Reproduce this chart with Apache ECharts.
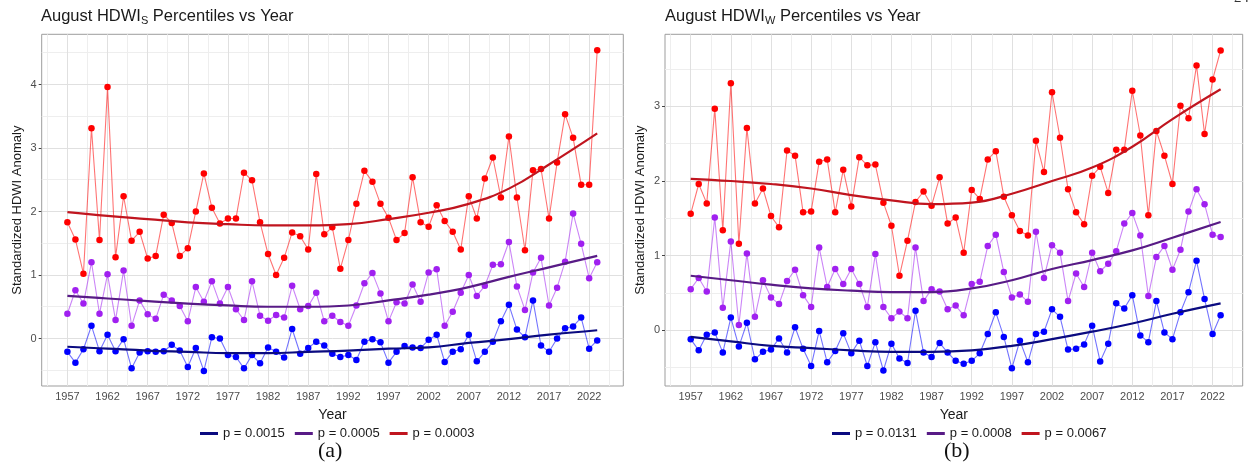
<!DOCTYPE html>
<html>
<head>
<meta charset="utf-8">
<title>August HDWI Percentiles vs Year</title>
<script src="https://cdn.jsdelivr.net/npm/echarts@6/dist/echarts.min.js"></script>
<style>
  html, body { margin: 0; padding: 0; background: #fff; }
  #chart { width: 1249px; height: 470px; }
</style>
</head>
<body>
<div id="chart"></div>
<script>
// Years covered by every series
const years = Array.from({ length: 67 }, (_, i) => 1957 + i);
const xTickYears = [1957, 1962, 1967, 1972, 1977, 1982, 1987, 1992, 1997, 2002, 2007, 2012, 2017, 2022];
const yTicksS = [0, 1, 2, 3, 4];
const yTicksW = [0, 1, 2, 3];

// HDWI_S percentiles (standardized anomaly)
const sBlue = [-0.21, -0.38, -0.17, 0.20, -0.20, 0.06, -0.20, -0.01, -0.47, -0.22, -0.20, -0.21, -0.20, -0.10, -0.19, -0.45, -0.15, -0.51, 0.02, 0.00, -0.26,
  -0.29, -0.47, -0.26, -0.39, -0.14, -0.21, -0.30, 0.15, -0.24, -0.15, -0.05, -0.11, -0.24, -0.29, -0.26, -0.34, -0.05, -0.01, -0.06, -0.38, -0.21, -0.12, -0.14, -0.15,
  -0.02, 0.06, -0.37, -0.21, -0.17, 0.06, -0.36, -0.21, -0.05, 0.27, 0.53, 0.14, 0.02, 0.60, -0.11, -0.21, 0.00, 0.16, 0.19, 0.33, -0.16, -0.03];
const sPurple = [0.39, 0.76, 0.55, 1.20, 0.39, 1.01, 0.29, 1.07, 0.20, 0.60, 0.38, 0.31, 0.69, 0.60, 0.51, 0.27, 0.81, 0.58, 0.90, 0.55, 0.81,
  0.46, 0.29, 0.90, 0.36, 0.28, 0.37, 0.33, 0.83, 0.46, 0.51, 0.72, 0.27, 0.36, 0.26, 0.20, 0.52, 0.87, 1.03, 0.71, 0.27, 0.57, 0.55, 0.85, 0.58,
  1.04, 1.09, 0.20, 0.42, 0.72, 1.00, 0.67, 0.83, 1.16, 1.17, 1.52, 0.82, 0.45, 1.04, 1.27, 0.52, 0.80, 1.21, 1.97, 1.49, 0.95, 1.20];
const sRed = [1.83, 1.56, 1.02, 3.31, 1.55, 3.96, 1.28, 2.24, 1.54, 1.68, 1.26, 1.30, 1.95, 1.82, 1.30, 1.42, 2.00, 2.60, 2.06, 1.81, 1.89,
  1.89, 2.61, 2.49, 1.83, 1.33, 1.00, 1.27, 1.67, 1.61, 1.40, 2.59, 1.64, 1.75, 1.10, 1.55, 2.12, 2.64, 2.47, 2.12, 1.90, 1.55, 1.66, 2.54, 1.83,
  1.76, 2.10, 1.85, 1.68, 1.40, 2.24, 1.89, 2.52, 2.85, 2.22, 3.18, 2.22, 1.39, 2.65, 2.67, 1.89, 2.77, 3.53, 3.16, 2.42, 2.42, 4.54];

// HDWI_W percentiles (standardized anomaly)
const wBlue = [-0.12, -0.27, -0.06, -0.03, -0.30, 0.17, -0.22, 0.10, -0.39, -0.29, -0.26, -0.11, -0.30, 0.04, -0.25, -0.48, -0.01, -0.43, -0.28, -0.04, -0.31, -0.14,
  -0.48, -0.16, -0.54, -0.18, -0.38, -0.44, 0.26, -0.30, -0.36, -0.17, -0.30, -0.41, -0.45, -0.41, -0.31, -0.05, 0.24, -0.09, -0.51, -0.14, -0.43, -0.05, -0.02, 0.28,
  0.18, -0.26, -0.25, -0.19, 0.06, -0.42, -0.18, 0.36, 0.29, 0.47, -0.07, -0.16, 0.39, -0.03, -0.12, 0.24, 0.51, 0.93, 0.42, -0.05, 0.20];
const wPurple = [0.55, 0.70, 0.52, 1.51, 0.30, 1.19, 0.07, 1.03, 0.18, 0.67, 0.44, 0.35, 0.66, 0.81, 0.47, 0.31, 1.11, 0.58, 0.82, 0.62, 0.82, 0.62,
  0.31, 1.02, 0.31, 0.16, 0.25, 0.16, 1.11, 0.39, 0.55, 0.52, 0.28, 0.33, 0.20, 0.62, 0.65, 1.13, 1.28, 0.78, 0.44, 0.48, 0.38, 1.32, 0.70, 1.14,
  1.04, 0.39, 0.76, 0.58, 1.04, 0.79, 0.89, 1.06, 1.43, 1.57, 1.27, 0.46, 0.98, 1.13, 0.81, 1.08, 1.59, 1.89, 1.69, 1.28, 1.25];
const wRed = [1.56, 1.96, 1.70, 2.97, 1.34, 3.31, 1.16, 2.71, 1.70, 1.90, 1.53, 1.38, 2.41, 2.34, 1.58, 1.59, 2.26, 2.29, 1.58, 2.15, 1.66, 2.32,
  2.21, 2.22, 1.71, 1.40, 0.73, 1.20, 1.72, 1.86, 1.67, 2.05, 1.43, 1.51, 1.04, 1.88, 1.76, 2.29, 2.40, 1.79, 1.54, 1.33, 1.27, 2.54, 2.12, 3.19,
  2.58, 1.89, 1.58, 1.42, 2.07, 2.19, 1.84, 2.42, 2.42, 3.21, 2.61, 1.54, 2.67, 2.34, 1.96, 3.01, 2.84, 3.55, 2.63, 3.36, 3.75];

// Fitted trend curves, sampled at these years
const trendYears = [1957, 1962, 1967, 1972, 1977, 1982, 1987, 1992, 1997, 2002, 2007, 2012, 2017, 2023];
const sBlueTrend = [-0.13, -0.16, -0.19, -0.21, -0.23, -0.23, -0.21, -0.19, -0.16, -0.14, -0.07, -0.01, 0.06, 0.13];
const sPurpleTrend = [0.67, 0.63, 0.59, 0.55, 0.52, 0.50, 0.50, 0.52, 0.60, 0.69, 0.81, 0.97, 1.12, 1.30];
const sRedTrend = [1.99, 1.93, 1.88, 1.83, 1.80, 1.78, 1.78, 1.80, 1.88, 1.98, 2.12, 2.36, 2.74, 3.23];
const wBlueTrend = [-0.09, -0.15, -0.21, -0.24, -0.27, -0.29, -0.29, -0.27, -0.21, -0.12, -0.02, 0.09, 0.22, 0.36];
const wPurpleTrend = [0.73, 0.67, 0.61, 0.56, 0.53, 0.51, 0.51, 0.56, 0.67, 0.82, 0.94, 1.07, 1.24, 1.45];
const wRedTrend = [2.03, 2.00, 1.96, 1.90, 1.81, 1.74, 1.69, 1.71, 1.83, 2.00, 2.18, 2.46, 2.83, 3.23];

const sLegend = ['p = 0.0015', 'p = 0.0005', 'p = 0.0003'];
const wLegend = ['p = 0.0131', 'p = 0.0008', 'p = 0.0067'];

const FONT = 'Liberation Sans, Arial, Helvetica, sans-serif';
const pointColors = ['#0000ff', '#a020f0', '#ff0000'];
const lineColors = ['rgba(0,0,255,0.55)', 'rgba(160,32,240,0.55)', 'rgba(255,0,0,0.55)'];
const trendColors = ['#0b0b80', '#581b86', '#c0151f'];

const pairs = (xs, ys) => xs.map((x, i) => [x, ys[i]]);

// Panel grid lines (major at tick values, minor half-way between), drawn as line segments
function gridLineSeries(idx, xMajor, yMajor, xMin, xMax, yMin, yMax) {
  const xMinor = [xMajor[0] - 2.5].concat(xMajor.map(v => v + 2.5)).filter(v => v > xMin && v < xMax);
  const yMinor = [yMajor[0] - 0.5].concat(yMajor.map(v => v + 0.5)).filter(v => v > yMin && v < yMax);
  const seg = (xs, ys) => xs.map(v => ({ coords: [[v, yMin], [v, yMax]] }))
    .concat(ys.map(v => ({ coords: [[xMin, v], [xMax, v]] })));
  const base = {
    type: 'lines', coordinateSystem: 'cartesian2d', xAxisIndex: idx, yAxisIndex: idx,
    silent: true, polyline: false, symbol: ['none', 'none'], z: 1, animation: false
  };
  return [
    Object.assign({}, base, { data: seg(xMinor, yMinor), lineStyle: { color: '#eeeeee', width: 1, opacity: 1 } }),
    Object.assign({}, base, { data: seg(xMajor, yMajor), lineStyle: { color: '#e0e0e0', width: 1, opacity: 1 } })
  ];
}

function panelSeries(idx, values, trends, names) {
  const out = [];
  values.forEach((vals, k) => {
    out.push({
      type: 'line', name: 'obs' + idx + '_' + k, xAxisIndex: idx, yAxisIndex: idx,
      data: pairs(years, vals), symbol: 'circle', symbolSize: 6.5, showSymbol: true,
      lineStyle: { color: lineColors[k], width: 1.1 }, itemStyle: { color: pointColors[k] },
      silent: true, z: 3
    });
  });
  trends.forEach((vals, k) => {
    out.push({
      type: 'line', name: names[k], xAxisIndex: idx, yAxisIndex: idx,
      data: pairs(trendYears, vals), smooth: 0.45, symbol: 'none',
      lineStyle: { color: trendColors[k], width: 2.2 }, itemStyle: { color: trendColors[k] },
      silent: true, z: 5
    });
  });
  return out;
}

const panels = [
  { left: 41.7, width: 581.6, xMin: 1953.8, xMax: 2026.25, yMin: -0.748, yMax: 4.79, yTicks: yTicksS },
  { left: 665, width: 577.7, xMin: 1953.8, xMax: 2025.75, yMin: -0.748, yMax: 3.967, yTicks: yTicksW }
];

const titleStyle = {
  fontFamily: FONT, fontSize: 16.5, fontWeight: 'normal', color: '#1a1a1a',
  rich: { s: { fontFamily: FONT, fontSize: 11, color: '#1a1a1a', padding: [8, 0, 0, 0] } }
};

const option = {
  animation: false,
  backgroundColor: '#ffffff',
  textStyle: { fontFamily: FONT },
  title: [
    { text: 'August HDWI{s|S} Percentiles vs Year', left: 36, top: 2, textStyle: titleStyle },
    { text: 'August HDWI{s|W} Percentiles vs Year', left: 660, top: 2, textStyle: titleStyle }
  ],
  grid: panels.map(p => ({
    left: p.left, top: 34.3, width: p.width, height: 351.7,
    show: true, borderColor: '#9d9d9d', borderWidth: 1, backgroundColor: '#ffffff'
  })),
  xAxis: panels.map((p, i) => ({
    type: 'value', gridIndex: i, min: p.xMin, max: p.xMax,
    axisLine: { show: false }, splitLine: { show: false },
    axisTick: { show: true, customValues: xTickYears, length: 3, lineStyle: { color: '#444' } },
    axisLabel: { customValues: xTickYears, formatter: v => String(v), fontSize: 11, color: '#4d4d4d', margin: 5, fontFamily: FONT },
    name: 'Year', nameLocation: 'middle', nameGap: 22,
    nameTextStyle: { fontSize: 14, color: '#1a1a1a', fontFamily: FONT }
  })),
  yAxis: panels.map((p, i) => ({
    type: 'value', gridIndex: i, min: p.yMin, max: p.yMax,
    axisLine: { show: false }, splitLine: { show: false },
    axisTick: { show: true, customValues: p.yTicks, length: 3, lineStyle: { color: '#444' } },
    axisLabel: { customValues: p.yTicks, formatter: v => String(v), fontSize: 11, color: '#4d4d4d', margin: 5, fontFamily: FONT },
    name: 'Standardized HDWI Anomaly', nameLocation: 'middle', nameGap: 18,
    nameTextStyle: { fontSize: 13, color: '#1a1a1a', fontFamily: FONT }
  })),
  legend: [
    { data: sLegend, left: 195, top: 422, icon: 'rect', itemWidth: 18, itemHeight: 3, itemGap: 10,
      selectedMode: false, textStyle: { fontSize: 13, color: '#1a1a1a', fontFamily: FONT } },
    { data: wLegend, left: 827, top: 422, icon: 'rect', itemWidth: 18, itemHeight: 3, itemGap: 10,
      selectedMode: false, textStyle: { fontSize: 13, color: '#1a1a1a', fontFamily: FONT } }
  ],
  graphic: [
    { type: 'text', left: 318, top: 440, style: { text: '(a)', font: '22px "Liberation Serif", "DejaVu Serif", serif', fill: '#111' } },
    { type: 'text', left: 944, top: 440, style: { text: '(b)', font: '22px "Liberation Serif", "DejaVu Serif", serif', fill: '#111' } },
    { type: 'text', left: 1234, top: -9, style: { text: '24', font: '15px "Liberation Serif", serif', fill: '#333' } }
  ],
  series: [
    ...gridLineSeries(0, xTickYears, yTicksS, panels[0].xMin, panels[0].xMax, panels[0].yMin, panels[0].yMax),
    ...gridLineSeries(1, xTickYears, yTicksW, panels[1].xMin, panels[1].xMax, panels[1].yMin, panels[1].yMax),
    ...panelSeries(0, [sBlue, sPurple, sRed], [sBlueTrend, sPurpleTrend, sRedTrend], sLegend),
    ...panelSeries(1, [wBlue, wPurple, wRed], [wBlueTrend, wPurpleTrend, wRedTrend], wLegend)
  ]
};

const chart = echarts.init(document.getElementById('chart'), null, { renderer: 'canvas' });
chart.setOption(option);
</script>
</body>
</html>
